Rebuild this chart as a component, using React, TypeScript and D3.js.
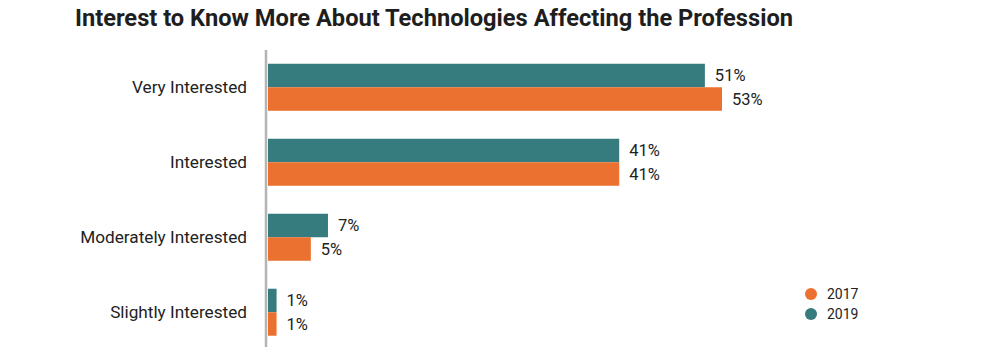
import { useEffect, useRef } from 'react';
import * as d3 from 'd3';

const WIDTH = 1000;
const HEIGHT = 354;

const categories = ['Very Interested', 'Interested', 'Moderately Interested', 'Slightly Interested'];
const values2019 = [51, 41, 7, 1];
const values2017 = [53, 41, 5, 1];
const seriesNames = ['2019', '2017'];
const legendOrder = ['2017', '2019'];
const COLORS: Record<string, string> = { '2017': '#ea7130', '2019': '#367b7d' };

const TITLE = 'Interest to Know More About Technologies Affecting the Profession';

export default function App() {
  const svgRef = useRef<SVGSVGElement>(null);

  useEffect(() => {
    if (!svgRef.current) return;
    const svg = d3.select(svgRef.current);
    svg.selectAll('*').remove();

    const font = 'Roboto, "Noto Sans", sans-serif';

    // Titulo
    svg
      .append('text')
      .attr('x', 75)
      .attr('y', 26)
      .attr('textLength', 718)
      .attr('lengthAdjust', 'spacingAndGlyphs')
      .style('font-family', font)
      .style('font-size', '23px')
      .style('font-weight', '700')
      .style('fill', '#1e1e1e')
      .text(TITLE);

    // Escalas
    const yScale = d3.scaleBand().domain(categories).range([51, 348.5]).paddingInner(0.373).paddingOuter(0.17);
    const ySub = d3.scaleBand().domain(seriesNames).range([0, yScale.bandwidth()]);
    const xScale = d3.scaleLinear().domain([0, 53]).range([268, 722]);

    const rows = categories.map((c, i) => ({
      category: c,
      bars: [
        { series: '2019', value: values2019[i] },
        { series: '2017', value: values2017[i] },
      ],
    }));

    const groups = svg
      .selectAll('g.group')
      .data(rows)
      .join('g')
      .attr('class', 'group')
      .attr('transform', d => `translate(0, ${yScale(d.category)})`);

    groups
      .selectAll('rect')
      .data(d => d.bars)
      .join('rect')
      .attr('x', xScale(0))
      .attr('y', d => ySub(d.series)!)
      .attr('width', d => xScale(d.value) - xScale(0))
      .attr('height', ySub.bandwidth())
      .attr('fill', d => COLORS[d.series]);

    groups
      .selectAll('text.value')
      .data(d => d.bars)
      .join('text')
      .attr('class', 'value')
      .attr('x', d => xScale(d.value) + 10)
      .attr('y', d => ySub(d.series)! + ySub.bandwidth() / 2)
      .attr('dy', '0.35em')
      .style('font-family', font)
      .style('font-size', '16.5px')
      .style('fill', '#222')
      .text(d => `${d.value}%`);

    // Labels das categorias
    groups
      .append('text')
      .attr('x', 247)
      .attr('y', yScale.bandwidth() / 2)
      .attr('dy', '0.35em')
      .attr('text-anchor', 'end')
      .style('font-family', font)
      .style('font-size', '17.2px')
      .style('fill', '#222')
      .text(d => d.category);

    // Eixo
    svg
      .append('line')
      .attr('x1', 266)
      .attr('x2', 266)
      .attr('y1', 50)
      .attr('y2', 347)
      .attr('stroke', '#b4b4b4')
      .attr('stroke-width', 2.5);

    // Legenda
    const legend = svg
      .selectAll('g.legend')
      .data(legendOrder)
      .join('g')
      .attr('class', 'legend')
      .attr('transform', (d, i) => `translate(811, ${294 + i * 20})`);

    legend.append('circle').attr('r', 6).attr('fill', d => COLORS[d]);

    legend
      .append('text')
      .attr('x', 16)
      .attr('dy', '0.35em')
      .style('font-family', font)
      .style('font-size', '14px')
      .style('fill', '#222')
      .text(d => d);
  }, []);

  return (
    <svg
      ref={svgRef}
      width={WIDTH}
      height={HEIGHT}
      style={{ position: 'absolute', left: 0, top: 0, background: '#fff' }}
    />
  );
}
